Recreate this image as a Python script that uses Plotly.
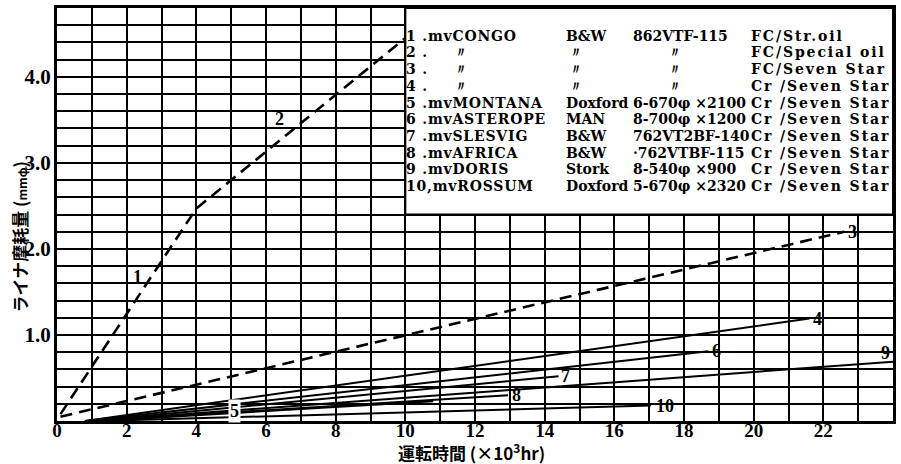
import numpy as np
import plotly.graph_objects as go

# Liner wear (mm dia) against running time (x10^3 hr), one polyline per engine
hours_1_2 = [0.1, 4.0, 10.0]
wear_1_2 = [0.08, 2.47, 4.45]
hours_3 = [0.1, 22.6]
wear_3 = [0.05, 2.20]
hours_4 = [0.8, 21.6]
wear_4 = [0.0, 1.19]
hours_5 = [1.2, 10.8]
wear_5 = [0.0, 0.23]
hours_6 = [0.8, 18.7]
wear_6 = [0.0, 0.81]
hours_7 = [1.0, 14.4]
wear_7 = [0.0, 0.52]
hours_8 = [1.0, 12.95]
wear_8 = [0.0, 0.30]
hours_9 = [1.0, 24.0]
wear_9 = [0.0, 0.69]
hours_10 = [1.2, 17.05]
wear_10 = [0.0, 0.18]

x_ticks = list(range(0, 24, 2))
x_tick_text = [str(v) for v in x_ticks]
y_ticks = [1, 2, 3, 4]
y_tick_text = ["1.0", "2.0", "3.0", "4.0"]

# ship / engine / cylinder / liner + lube oil
ships = ["1 .mvCONGO", "2 .", "3 .", "4 .", "5 .mvMONTANA", "6 .mvASTEROPE",
         "7 .mvSLESVIG", "8 .mvAFRICA", "9 .mvDORIS", "10,mvROSSUM"]
makers = ["B&W", "〃", "〃", "〃", "Doxford", "MAN", "B&W", "B&W", "Stork", "Doxford"]
engines = ["862VTF-115", "〃", "〃", "〃", "6-670φ ×2100", "8-700φ ×1200",
           "762VT2BF-140", "·762VTBF-115", "8-540φ ×900", "5-670φ ×2320"]
oils = ["FC/Str.oil", "FC/Special oil", "FC/Seven Star", "Cr /Seven Star",
        "Cr /Seven Star", "Cr /Seven Star", "Cr /Seven Star", "Cr /Seven Star",
        "Cr /Seven Star", "Cr /Seven Star"]

INK = "black"
W, H = 901, 464
ML, MR, MT, MB = 57, 6, 5, 43
X_MAX, Y_MAX = 24, 4.8
LEGEND_Y0 = 2.4
LEGEND_X0 = 10

fig = go.Figure()

dashed = [(hours_1_2, wear_1_2), (hours_3, wear_3)]
solid = [(hours_4, wear_4), (hours_5, wear_5), (hours_6, wear_6),
         (hours_7, wear_7), (hours_8, wear_8), (hours_9, wear_9),
         (hours_10, wear_10)]
for xs, ys in dashed:
    fig.add_trace(go.Scatter(x=xs, y=ys, mode="lines",
                             line=dict(color=INK, width=2.6, dash="12px,7px"),
                             hoverinfo="skip"))
for xs, ys in solid:
    fig.add_trace(go.Scatter(x=xs, y=ys, mode="lines",
                             line=dict(color=INK, width=2),
                             hoverinfo="skip"))

num_font = dict(family="Liberation Serif", size=18, color=INK, weight="bold")

def end_label(text, xs, ys, xshift, yshift=0):
    fig.add_annotation(x=xs[-1], y=ys[-1], text=text, showarrow=False,
                       xanchor="center", yanchor="middle",
                       xshift=xshift, yshift=yshift, font=num_font)

def mid_label(text, xs, ys, at, xshift=0, yshift=0, bg=None):
    fig.add_annotation(x=at, y=float(np.interp(at, xs, ys)), text=text,
                       showarrow=False, xanchor="center", yanchor="middle",
                       xshift=xshift, yshift=yshift, font=num_font,
                       bgcolor=bg)

mid_label("1", hours_1_2, wear_1_2, 2.3, yshift=21)
mid_label("2", hours_1_2, wear_1_2, 6.4, yshift=21)
end_label("3", hours_3, wear_3, 8)
end_label("4", hours_4, wear_4, 8)
mid_label("5", hours_5, wear_5, 5.1, yshift=2, bg="white")
end_label("6", hours_6, wear_6, 8)
end_label("7", hours_7, wear_7, 7)
end_label("8", hours_8, wear_8, 8)
end_label("9", hours_9, wear_9, -8, yshift=9)
end_label("10", hours_10, wear_10, 14)

# white key box in the upper right corner of the grid
fig.add_shape(type="rect", xref="x", yref="y", x0=LEGEND_X0, x1=X_MAX,
              y0=LEGEND_Y0, y1=Y_MAX, fillcolor="white",
              line=dict(color=INK, width=2), layer="above")

def px_to_paper(px, py):
    return (px - ML) / (W - ML - MR), (H - MB - py) / (H - MT - MB)

def spaced(txt, px):
    return f"<span style='letter-spacing:{px}px'>{txt}</span>"

key_font = dict(family="DejaVu Serif", size=14, color=INK, weight="bold")
row_y0, row_step = 33, 16.8
for i in range(len(ships)):
    py = row_y0 + row_step * i
    cells = [(405, spaced(ships[i], 0.8), "left"),
             (565, makers[i], "left"),
             (632, engines[i], "left"),
             (751, spaced(oils[i], 1.9), "left")]
    if makers[i] == "〃":
        cells[1] = (577, makers[i], "center")
    if engines[i] == "〃":
        cells[2] = (676, engines[i], "center")
    for px, txt, anchor in cells:
        xp, yp = px_to_paper(px, py)
        fig.add_annotation(xref="paper", yref="paper", x=xp, y=yp, text=txt,
                           showarrow=False, xanchor=anchor, yanchor="middle",
                           font=key_font)
    if i in (1, 2, 3):
        xp, yp = px_to_paper(462, py)
        fig.add_annotation(xref="paper", yref="paper", x=xp, y=yp, text="〃",
                           showarrow=False, xanchor="center", yanchor="middle",
                           font=key_font)

title_font = dict(family="Noto Sans CJK JP", size=17, color=INK, weight="bold")
xp, yp = px_to_paper(472, 452)
fig.add_annotation(xref="paper", yref="paper", x=xp, y=yp,
                   text="運転時間 (×10<sup>3</sup>hr)", showarrow=False,
                   xanchor="center", yanchor="middle", font=title_font)
xp, yp = px_to_paper(19, 236)
fig.add_annotation(xref="paper", yref="paper", x=xp, y=yp,
                   text="ライナ摩耗量 (<span style='font-size:12px'>mmφ</span>)",
                   showarrow=False, textangle=-90,
                   xanchor="center", yanchor="middle", font=title_font)

grid = dict(showgrid=True, gridcolor=INK, gridwidth=2)
fig.update_xaxes(range=[0, X_MAX], tickmode="array", tickvals=x_ticks,
                 ticktext=x_tick_text, ticks="", showline=True, linecolor=INK,
                 linewidth=3, mirror=True, zeroline=False,
                 tickfont=dict(num_font, size=19), ticklabelstandoff=-10,
                 minor=dict(tickmode="linear", tick0=0, dtick=1, **grid),
                 **grid)
fig.update_yaxes(range=[0, Y_MAX], tickmode="array", tickvals=y_ticks,
                 ticktext=y_tick_text, ticks="", showline=True, linecolor=INK,
                 linewidth=3, mirror=True, zeroline=False,
                 tickfont=dict(num_font, size=21), ticklabelstandoff=-1,
                 minor=dict(tickmode="linear", tick0=0, dtick=0.2, **grid),
                 **grid)

fig.update_layout(width=W, height=H, showlegend=False,
                  margin=dict(l=ML, r=MR, t=MT, b=MB),
                  paper_bgcolor="white", plot_bgcolor="white")

fig.write_html("out.html")
